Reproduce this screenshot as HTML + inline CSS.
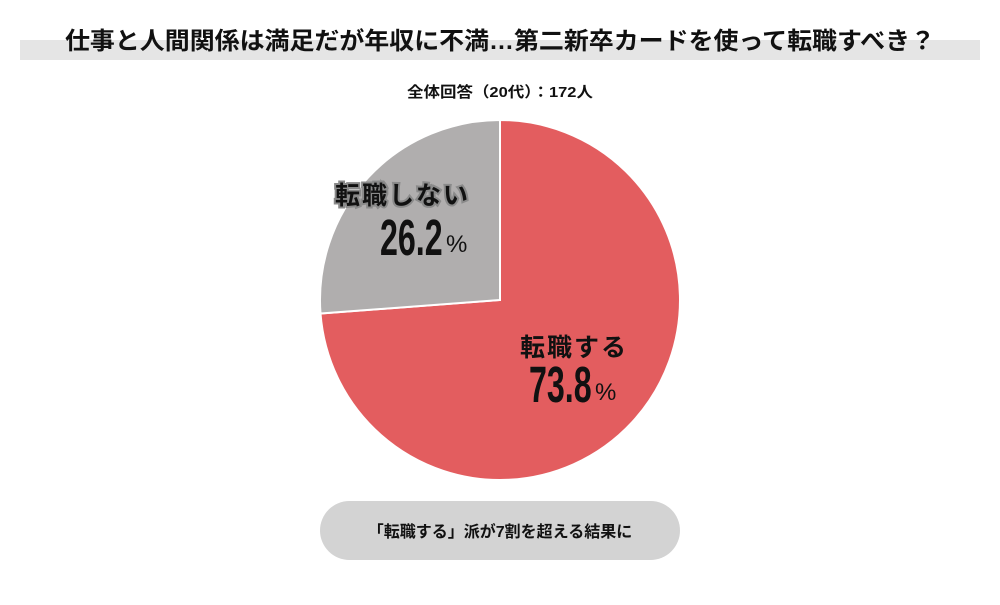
<!DOCTYPE html>
<html><head><meta charset="utf-8"><style>
body{margin:0;width:1000px;height:600px;background:#fff;overflow:hidden}
text{font-family:"Liberation Sans","Noto Sans CJK JP",sans-serif;font-weight:bold}
</style></head><body>
<svg width="1000" height="600" viewBox="0 0 1000 600">
<rect x="20" y="40" width="960" height="20" fill="#e5e5e5"/>
<text x="500" y="49" font-size="24" text-anchor="middle" fill="#111" transform="translate(500,0) scale(1.04,1) translate(-500,0)">仕事と人間関係は満足だが年収に不満…第二新卒カードを使って転職すべき？</text>
<text x="500" y="97" font-size="15" text-anchor="middle" fill="#111" transform="translate(500,0) scale(1.1,1) translate(-500,0)">全体回答（20代）：172人</text>
<path d="M500,300 L500,120 A180,180 0 1,1 320.5,313.5 Z" fill="#e35d5f" stroke="#fff" stroke-width="2"/>
<path d="M500,300 L320.5,313.5 A180,180 0 0,1 500,120 Z" fill="#b0aeae" stroke="#fff" stroke-width="2"/>
<text x="335" y="204" font-size="25" fill="#111" stroke="#8a8a8a" stroke-width="4" paint-order="stroke" letter-spacing="2">転職しない</text>
<g transform="translate(380,255) scale(0.7,1.1)"><text x="0" y="0" font-size="46" fill="#111">26.2</text></g>
<text x="446" y="252" font-size="24" fill="#111" style="font-weight:normal">%</text>
<text x="520" y="356" font-size="25" fill="#111" letter-spacing="2">転職する</text>
<g transform="translate(529,402) scale(0.7,1.1)"><text x="0" y="0" font-size="46" fill="#111">73.8</text></g>
<text x="595" y="400" font-size="24" fill="#111" style="font-weight:normal">%</text>
<rect x="320" y="501" width="360" height="59" rx="29.5" fill="#d3d3d3"/>
<text x="500" y="537" font-size="16" text-anchor="middle" fill="#111">「転職する」派が7割を超える結果に</text>
</svg>
</body></html>
